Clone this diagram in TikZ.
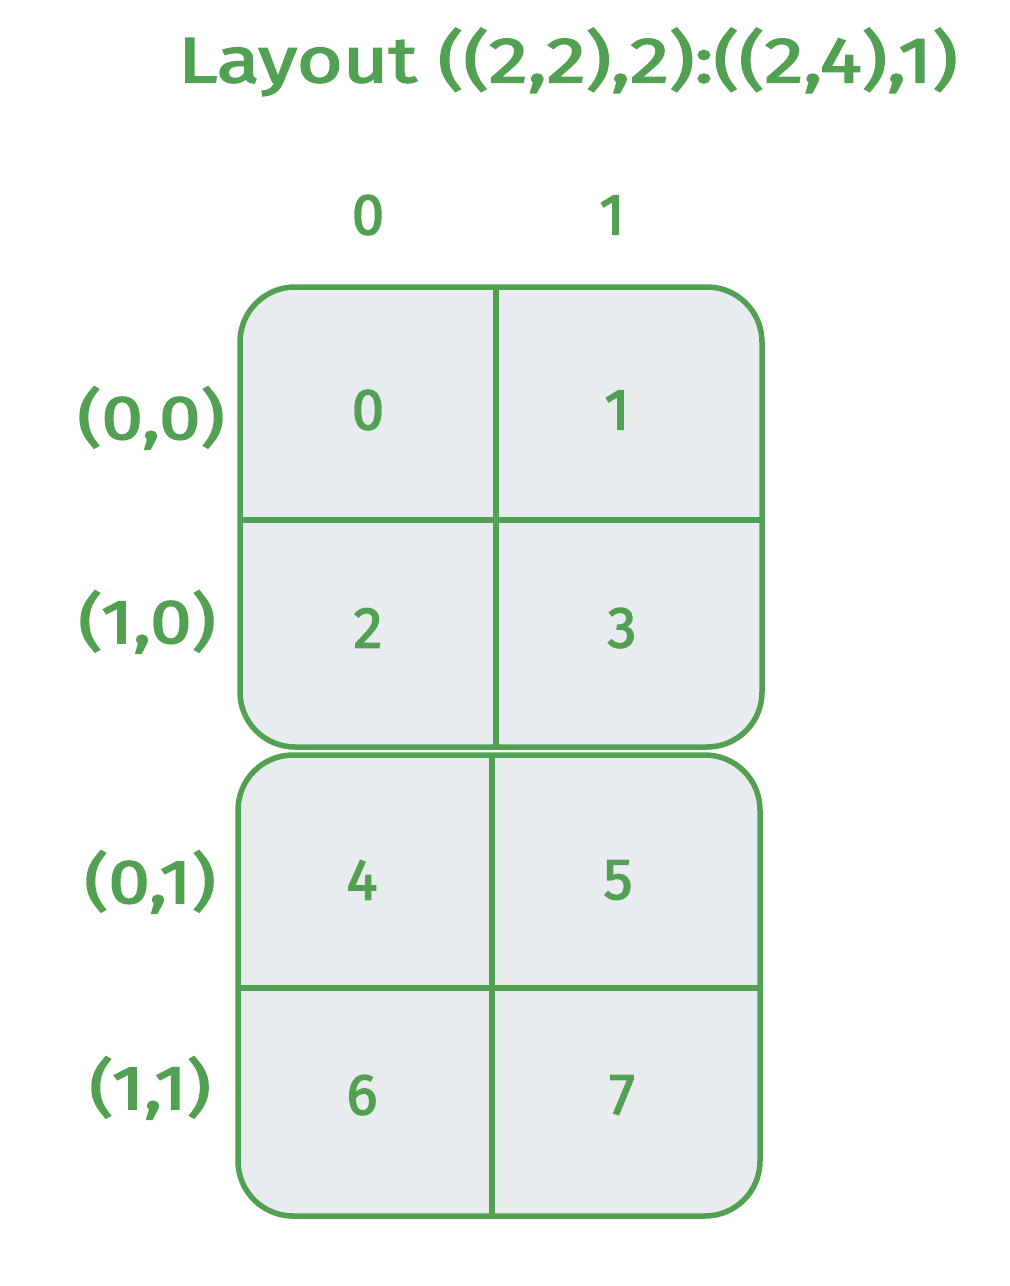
\documentclass[tikz,border=0pt]{standalone}
\usepackage{fontspec}
\setmainfont{Fira Sans}
\newfontfamily\handfont[FakeBold=2.5]{Fira Sans}
\definecolor{gr}{HTML}{52A052}
\definecolor{cellfill}{HTML}{E9ECEE}
\begin{document}
\begin{tikzpicture}[x=1pt,y=-1pt,
  boxst/.style={draw=gr,line width=5.5pt,fill=cellfill,rounded corners=55pt},
  divst/.style={draw=gr,line width=5.5pt},
  lbl/.style={text=gr,font=\handfont\fontsize{58}{62}\selectfont,inner sep=0pt},
  rowlbl/.style={text=gr,font=\handfont\fontsize{62}{68}\selectfont,inner sep=0pt,xscale=1.2},
  ttl/.style={text=gr,font=\handfont\fontsize{64}{70}\selectfont,inner sep=0pt,xscale=1.23}]
\useasboundingbox (0,0) rectangle (1010,1286);
% boxes
\draw[boxst] (240,287) rectangle (762,747);
\draw[divst] (496,287) -- (496,747);
\draw[divst] (240,520) -- (762,520);
\draw[boxst] (238,755) rectangle (760,1216);
\draw[divst] (492,755) -- (492,1216);
\draw[divst] (238,988) -- (760,988);
% title
\node[ttl] (title) at (568,62) {Layout ((2,2),2):((2,4),1)};
% column headers
\node[lbl] (c0) at (368,215) {0};
\node[lbl] (c1) at (612,215) {1};
% cells
\node[lbl] (v0) at (368,410) {0};
\node[lbl] (v1) at (617,410) {1};
\node[lbl] (v2) at (368,628) {2};
\node[lbl] (v3) at (622,628) {3};
\node[lbl] (v4) at (362,880) {4};
\node[lbl] (v5) at (618,880) {5};
\node[lbl] (v6) at (362,1095) {6};
\node[lbl] (v7) at (622,1095) {7};
% row labels
\node[rowlbl] (r00) at (151,418) {(0,0)};
\node[rowlbl] (r10) at (147,622) {(1,0)};
\node[rowlbl] (r01) at (150,882) {(0,1)};
\node[rowlbl] (r11) at (150,1088) {(1,1)};
\end{tikzpicture}
\end{document}
